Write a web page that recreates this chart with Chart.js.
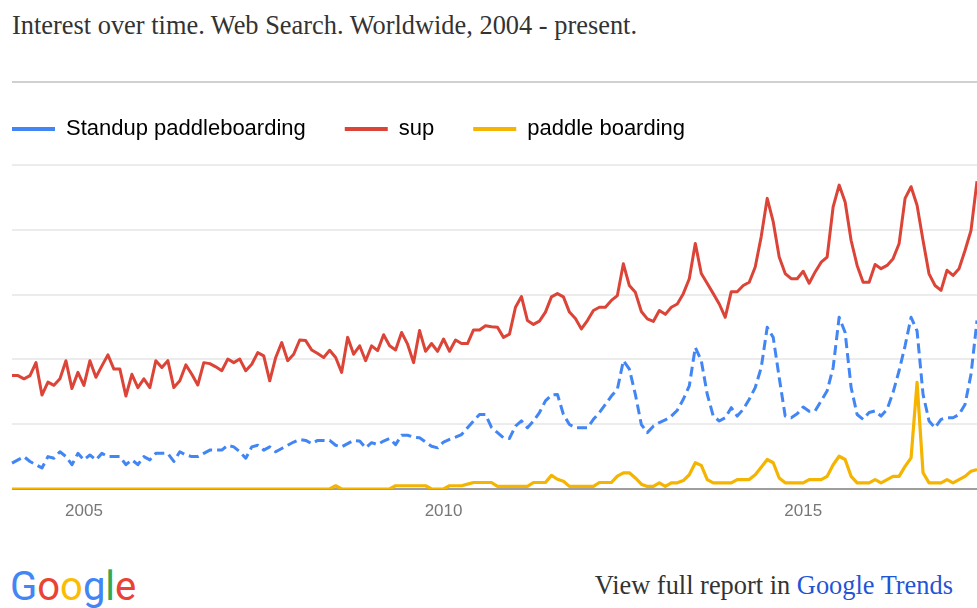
<!DOCTYPE html>
<html>
<head>
<meta charset="utf-8">
<script src="https://cdn.jsdelivr.net/npm/chart.js@4"></script>
<style>
  body { margin: 0; background: #fff; width: 977px; height: 608px; overflow: hidden; position: relative; }
  .titulo { position: absolute; left: 12px; top: 12px; font: 26.4px/1 "Liberation Serif", serif; color: #333; white-space: nowrap; }
  .regua { position: absolute; left: 12px; top: 81px; width: 965px; height: 2px; background: #d0d0d0; }
  .grafico { position: absolute; left: 0; top: 70px; width: 977px; height: 461px; }
  .logo { position: absolute; left: 10px; top: 567px; font: 40px/1 Roboto, sans-serif; white-space: nowrap; }
  .rodape { position: absolute; right: 24px; top: 572px; font: 26.4px/1 "Liberation Serif", serif; color: #333; white-space: nowrap; }
  .rodape span { color: #1f55d6; }
</style>
</head>
<body>
<div class="titulo">Interest over time. Web Search. Worldwide, 2004 - present.</div>
<div class="regua"></div>
<div class="grafico"><canvas id="myChart"></canvas></div>
<div class="logo"><span style="color:#4285f4">G</span><span style="color:#ea4335">o</span><span style="color:#fbbc05">o</span><span style="color:#4285f4">g</span><span style="color:#34a853">l</span><span style="color:#ea4335">e</span></div>
<div class="rodape">View full report in <span>Google Trends</span></div>

<script>
// meses de jan/2004 a jun/2017
var meses = [];
for (var ano = 2004; ano <= 2017; ano++) {
  for (var m = 1; m <= 12; m++) {
    if (meses.length < 162) meses.push(ano + '-' + (m < 10 ? '0' + m : m));
  }
}

var anosRotulo = ['2005', '2010', '2015'];

var standup = [
  8, 9, 10, 8.5, 7.5, 6.5, 10, 9.5, 11.5, 10, 7.5, 11,
  9, 10.5, 9, 11, 10, 10, 10, 7.5, 9, 7.5, 10, 9,
  11, 11, 11, 8.5, 11.5, 10.5, 10, 10, 11, 12, 12, 12,
  13.5, 13, 11.5, 9.5, 13, 13.5, 12, 13, 11.5, 12.5, 13.5, 14.5,
  15.3, 15, 14, 15, 15, 15, 13.5, 13, 14, 15, 14.8, 12.7,
  14.3, 13.7, 14.8, 15.6, 13.7, 16.6, 16.6, 16, 15.8, 14.5, 13.2, 12.7,
  14.5, 15.3, 16, 16.8, 18.9, 21, 23, 23, 19, 17.4, 15.8, 15.6,
  19.4, 21, 18.9, 21, 23.6, 27.2, 29, 29.2, 23, 19.9, 18.9, 18.9,
  18.9, 21.5, 23.6, 26.1, 28.7, 30.8, 39.6, 37, 29.2, 19.9, 17.4, 19.4,
  20.5, 21.3, 22.5, 24.3, 27.7, 31.8, 43.7, 39.6, 29.2, 22.5, 21, 22,
  25.1, 22.5, 24.6, 27.7, 31.3, 37.5, 49.9, 46.8, 34.4, 22.5, 22, 23.2,
  25.3, 24, 24.1, 27.2, 30.3, 37.5, 53, 48.3, 31.3, 23, 21.5, 23.6,
  24.1, 22.5, 24.6, 29.8, 36.5, 44.2, 53, 48.8, 29.2, 21, 18.9, 21.5,
  22, 22, 23, 26.1, 35.4, 52
];

var sup = [
  35, 35, 34, 35, 39, 29, 33, 32, 34, 39.6, 31, 36,
  32, 39.6, 34.5, 38, 41.4, 37, 37, 28.7, 35.4, 31.3, 34, 31.3,
  39.6, 37.5, 39.6, 31.3, 33.4, 38.3, 35.4, 32.1, 39, 38.7, 37.7, 36.5,
  40.1, 39, 40.1, 36.5, 38.5, 42.1, 41.1, 33.4, 40.6, 45.2, 39.6, 41.6,
  46, 45.8, 42.9, 41.8, 40.6, 42.8, 40.6, 36, 46.8, 41.6, 44.2, 39.6,
  44.2, 42.7, 47.6, 44.2, 42.9, 48.3, 44.7, 39, 48.9, 42.5, 44.9, 42.5,
  46.3, 42.5, 46, 44.9, 44.9, 49.1, 49.1, 50.4, 50.1, 49.9, 46.8, 47.8,
  56.1, 59.4, 52, 50.8, 51.8, 54.6, 59.3, 60.3, 59.3, 54.6, 52.6, 49.4,
  52, 55.1, 56.1, 56.1, 58.2, 59.7, 69.5, 62.8, 60.7, 54.8, 52.5, 51.7,
  55.1, 53.9, 56.1, 57.1, 60.3, 64.9, 75.8, 66.5, 63.4, 60.3, 57.1, 53,
  60.9, 60.9, 62.8, 63.8, 68.5, 77.9, 89.7, 82.5, 71.6, 66.5, 64.9, 64.9,
  67.2, 63.5, 67, 70, 71.6, 87.1, 93.8, 88.6, 76.7, 69, 63.8, 63.8,
  69.3, 68, 69, 71.1, 75.7, 89.7, 93.3, 87.6, 76.7, 66.4, 62.8, 61.3,
  67.5, 65.9, 68, 73.6, 79.8, 95
];

var paddleBoarding = [
  0, 0, 0, 0, 0, 0, 0, 0, 0, 0, 0, 0,
  0, 0, 0, 0, 0, 0, 0, 0, 0, 0, 0, 0,
  0, 0, 0, 0, 0, 0, 0, 0, 0, 0, 0, 0,
  0, 0, 0, 0, 0, 0, 0, 0, 0, 0, 0, 0,
  0, 0, 0, 0, 0, 0, 1, 0, 0, 0, 0, 0,
  0, 0, 0, 0, 1, 1, 1, 1, 1, 1, 0, 0,
  0, 1, 1, 1, 1.5, 2, 2, 2, 2, 0.8, 0.8, 0.8,
  0.8, 0.8, 0.8, 2, 2, 2, 4.2, 3, 2.4, 0.8, 0.8, 0.8,
  0.8, 0.8, 2, 2, 2, 4, 5, 5, 3.4, 1.5, 0.8, 0.8,
  1.9, 0.8, 1.9, 1.9, 2.6, 4.4, 8.1, 7.3, 2.9, 1.9, 1.9, 1.9,
  1.9, 2.9, 2.9, 2.9, 4.4, 6.7, 9.1, 8.1, 3.4, 1.9, 1.9, 1.9,
  1.9, 2.9, 2.9, 2.9, 3.9, 7.5, 10.1, 9.1, 3.9, 1.9, 1.9, 1.9,
  2.9, 1.9, 2.9, 3.9, 3.9, 7, 9.6, 32.9, 5, 1.9, 1.9, 1.9,
  2.9, 1.9, 2.9, 3.9, 5.5, 6
];

var cores = ['#4285f4', '#db4437', '#f4b400'];

// empurra o inicio do grafico para baixo da legenda
var ajusteLegenda = {
  id: 'ajusteLegenda',
  beforeInit: function(chart) {
    var fitOriginal = chart.legend.fit;
    chart.legend.fit = function() {
      fitOriginal.bind(chart.legend)();
      this.height += 15;
    };
  }
};

Chart.defaults.font.family = '"Liberation Sans", Arial, sans-serif';

var ctx = document.getElementById('myChart').getContext('2d');
var myChart = new Chart(ctx, {
  type: 'line',
  data: {
    labels: meses,
    datasets: [{
      label: 'Standup paddleboarding',
      data: standup,
      borderColor: cores[0],
      borderWidth: 3,
      borderDash: [10, 5],
      pointRadius: 0,
      tension: 0,
      borderJoinStyle: 'round'
    }, {
      label: 'sup',
      data: sup,
      borderColor: cores[1],
      borderWidth: 3,
      pointRadius: 0,
      tension: 0,
      borderJoinStyle: 'round'
    }, {
      label: 'paddle boarding',
      data: paddleBoarding,
      borderColor: cores[2],
      borderWidth: 3.2,
      pointRadius: 0,
      tension: 0,
      borderJoinStyle: 'round'
    }]
  },
  options: {
    responsive: true,
    maintainAspectRatio: false,
    animation: false,
    layout: {
      padding: { top: 9, left: -27, right: 0, bottom: 9.6 }
    },
    plugins: {
      tooltip: { enabled: false },
      legend: {
        position: 'top',
        align: 'start',
        labels: {
          boxWidth: 43,
          boxHeight: 4,
          padding: 39,
          color: '#222',
          font: { size: 22 },
          generateLabels: function(chart) {
            return chart.data.datasets.map(function(ds, i) {
              return {
                text: ds.label,
                fillStyle: ds.borderColor,
                strokeStyle: ds.borderColor,
                lineWidth: 0,
                hidden: false,
                datasetIndex: i
              };
            });
          }
        }
      }
    },
    scales: {
      x: {
        // tickLength conta como espaco mesmo com a grade escondida
        grid: { display: false, drawTicks: true, tickLength: 12 },
        border: { display: false },
        ticks: {
          autoSkip: false,
          maxRotation: 0,
          padding: 0,
          color: '#777',
          font: { size: 17 },
          callback: function(valor, i) {
            var rotulo = meses[i];
            if (rotulo && rotulo.slice(5) === '01' && anosRotulo.indexOf(rotulo.slice(0, 4)) >= 0) {
              return rotulo.slice(0, 4);
            }
            return '';
          }
        }
      },
      y: {
        min: 0,
        max: 100,
        afterFit: function(eixo) { eixo.width = 39; },
        border: { display: false },
        ticks: { display: false, stepSize: 20 },
        grid: {
          drawTicks: false,
          lineWidth: 2,
          color: function(c) { return c.tick.value === 0 ? '#9e9e9e' : '#ececec'; }
        }
      }
    }
  },
  plugins: [ajusteLegenda]
});
</script>
</body>
</html>
